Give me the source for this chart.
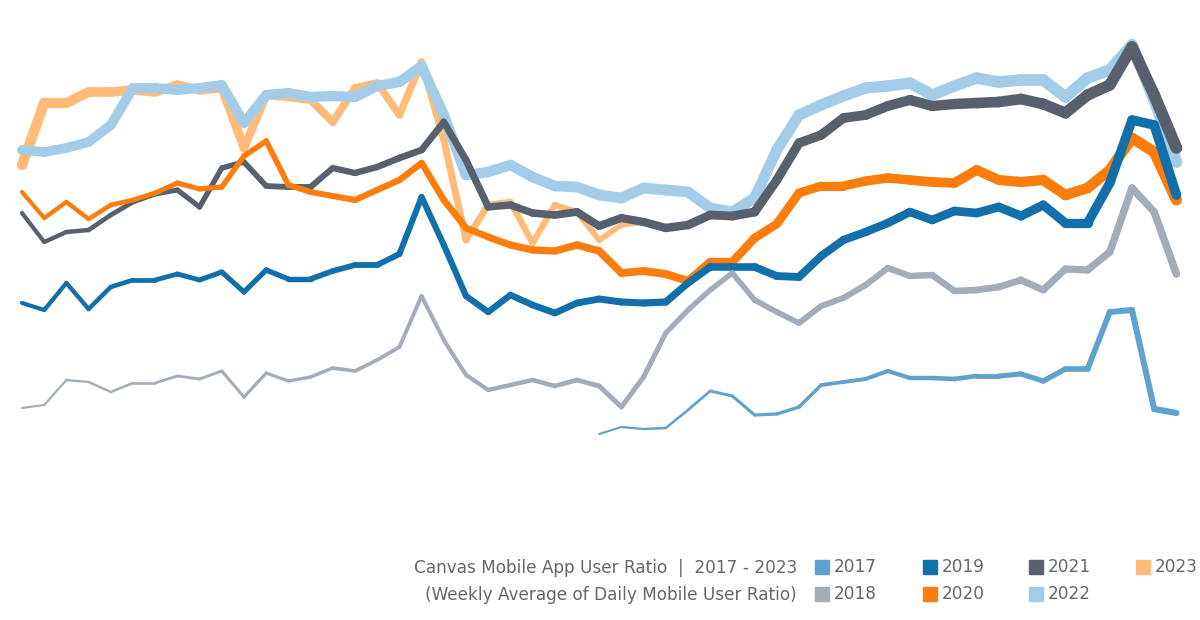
import numpy as np, pandas as pd, seaborn as sns, matplotlib
matplotlib.use("Agg")
import matplotlib.pyplot as plt
from matplotlib.patches import Rectangle

nan = np.nan
weeks = list(range(53))
years = ["2017", "2018", "2019", "2020", "2021", "2022", "2023"]
colors = {"2017": "#5fa2ce", "2018": "#a3acb9", "2019": "#1170aa", "2020": "#fc7d0b",
          "2021": "#57606c", "2022": "#a3cce9", "2023": "#ffbc79"}
# values = 620 - pixel height in the reference (weekly average of daily mobile user ratio, arbitrary units)
py2017 = [nan]*26 + [434,427,429,428,410,391,396,415,414,407,385,382,379,371,378,378,379,376,376,374,381,369,369,312,310,409,413]
py2018 = [408,405,380,382,392,383,383,376,379,371,397,373,381,377,368,371,360,347,296,340,375,390,385,380,386,380,386,407,377,333,310,290,273,300,312,323,306,298,285,268,276,275,291,290,287,280,290,269,270,252,188,212,274]
py2019 = [303,310,283,309,287,280,280,274,280,272,292,270,279,279,271,265,265,254,197,245,296,312,295,305,313,303,299,302,303,302,283,267,267,267,276,277,256,240,232,223,212,220,211,213,207,216,205,223,223,183,120,125,195]
py2020 = [192,218,202,219,205,200,193,183,189,187,156,141,185,192,196,200,190,180,163,200,228,237,245,250,251,245,251,273,271,274,281,262,262,238,224,193,186,186,181,178,180,182,183,170,180,182,180,195,188,170,138,152,200]
py2021 = [213,242,232,230,215,202,194,190,207,168,162,186,187,187,168,173,167,158,150,122,160,207,205,213,215,212,226,218,222,228,225,215,216,212,180,143,135,118,115,106,100,106,104,103,102,99,104,113,95,85,47,95,148]
py2022 = [150,152,148,142,125,88,88,90,88,85,123,95,93,97,96,97,86,82,66,115,175,172,165,177,186,187,195,198,188,190,192,208,212,198,150,115,105,96,88,86,83,95,86,78,82,80,80,97,78,70,45,100,162]
py2023 = [165,103,103,92,92,90,92,85,90,88,148,95,97,100,122,88,83,115,62,140,240,205,202,243,205,212,240,225,222] + [nan]*24
pix = dict(zip(years, [py2017, py2018, py2019, py2020, py2021, py2022, py2023]))
# line width at start / end of each series (style only)
widths = {"2017": (1.5, 4.5), "2018": (1.5, 5.5), "2019": (3, 7), "2020": (3, 8),
          "2021": (3, 8.5), "2022": (7, 8.5), "2023": (7.5, 4)}

rows = []
for y in years:
    v = 620 - np.array(pix[y], dtype=float)
    valid = np.where(~np.isnan(v))[0]
    w0, w1 = widths[y]
    for k in range(len(valid) - 1):
        i, j = valid[k], valid[k+1]
        w = w0 + (w1 - w0) * k / max(len(valid) - 2, 1)
        for idx in (i, j):
            rows.append(dict(year=y, seg=f"{y}-{k}", week=idx, val=v[idx], w=round(w, 2)))
df = pd.DataFrame(rows)

sns.set_theme(style="white")
fig = plt.figure(figsize=(12, 6.2), dpi=100)
ax = fig.add_axes([0, 0, 1, 1])
for y in reversed(years):
    d = df[df.year == y]
    sns.lineplot(data=d, x="week", y="val", units="seg", estimator=None, size="w",
                 sizes=(d.w.min(), d.w.max()) if d.w.min() != d.w.max() else None,
                 color=colors[y], legend=False, ax=ax, solid_capstyle="round",
                 solid_joinstyle="round", sort=False)
ax.set_xlim(-22/22.2, 1178/22.2)
ax.set_ylim(0, 620)
ax.axis("off")

tc = "#666666"
fs = 12.2
fig.text(797/1200, 1-568/620, "Canvas Mobile App User Ratio  |  2017 - 2023", ha="right", va="center", fontsize=fs, color=tc)
fig.text(797/1200, 1-595/620, "(Weekly Average of Daily Mobile User Ratio)", ha="right", va="center", fontsize=fs, color=tc)
pos = {"2017": (822, 567), "2019": (930, 567), "2021": (1036, 567), "2023": (1143, 567),
       "2018": (822, 594), "2020": (930, 594), "2022": (1036, 594)}
for y, (px, pyy) in pos.items():
    fig.patches.append(Rectangle((px/1200 - 7/1200, 1 - (pyy+7)/620), 14/1200, 14/620,
                                 transform=fig.transFigure, color=colors[y]))
    fig.text((px+12)/1200, 1-pyy/620, y, ha="left", va="center", fontsize=fs, color=tc)
fig.savefig("out.png", dpi=100)
